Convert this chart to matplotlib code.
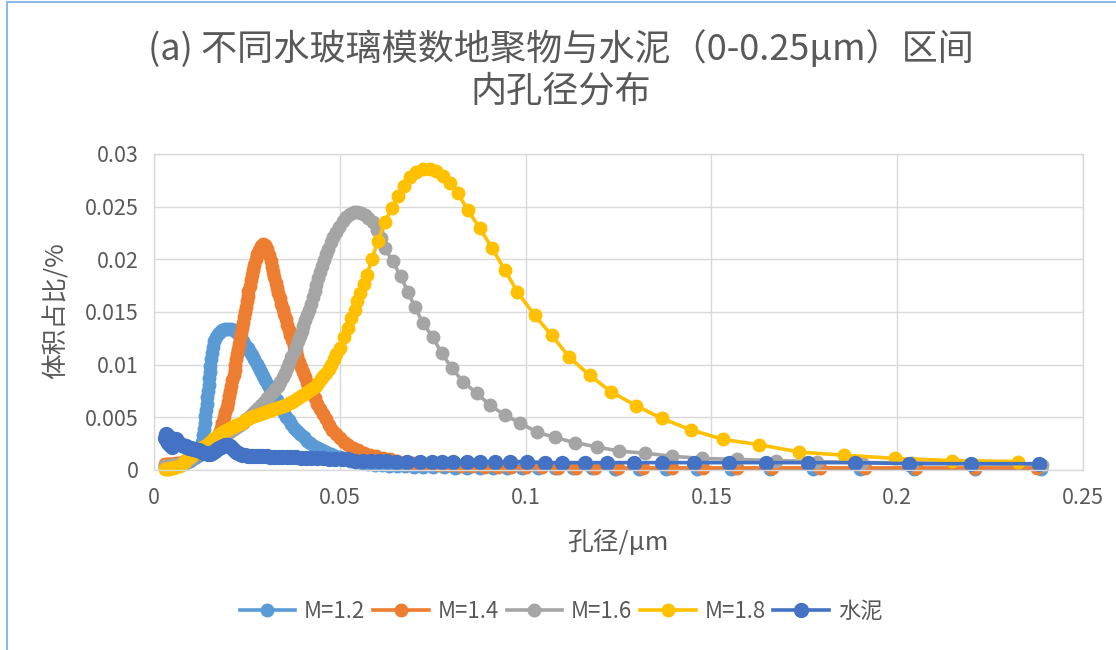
import matplotlib
matplotlib.use('Agg')
import matplotlib.pyplot as plt
from matplotlib.lines import Line2D
from matplotlib.ticker import FuncFormatter, MultipleLocator

plt.rcParams['font.family'] = ['Noto Sans CJK SC', 'DejaVu Sans']

# pore diameter (um), volume fraction (%)
m12_pts = [
    (0.0030, 0.0003), (0.0035, 0.0003), (0.0040, 0.0003), (0.0045, 0.0003), (0.0050, 0.0004),
    (0.0055, 0.0004), (0.0060, 0.0004), (0.0066, 0.0005), (0.0072, 0.0005), (0.0078, 0.0006),
    (0.0084, 0.0007), (0.0090, 0.0008), (0.0096, 0.0009), (0.0102, 0.0010), (0.0107, 0.0011),
    (0.0112, 0.0012), (0.0116, 0.0013), (0.0120, 0.0014), (0.0124, 0.0017), (0.0127, 0.0021),
    (0.0130, 0.0027), (0.0132, 0.0033), (0.0134, 0.0039), (0.0136, 0.0045), (0.0138, 0.0051),
    (0.0140, 0.0057), (0.0142, 0.0063), (0.0143, 0.0069), (0.0145, 0.0075), (0.0147, 0.0081),
    (0.0148, 0.0087), (0.0150, 0.0093), (0.0152, 0.0099), (0.0154, 0.0105), (0.0156, 0.0111),
    (0.0159, 0.0117), (0.0162, 0.0122), (0.0166, 0.0126), (0.0171, 0.0129), (0.0177, 0.0131),
    (0.0184, 0.0133), (0.0191, 0.0134), (0.0199, 0.0134), (0.0207, 0.0134), (0.0214, 0.0133),
    (0.0221, 0.0131), (0.0228, 0.0128), (0.0234, 0.0125), (0.0240, 0.0122), (0.0246, 0.0119),
    (0.0252, 0.0116), (0.0258, 0.0112), (0.0264, 0.0109), (0.0270, 0.0105), (0.0276, 0.0101),
    (0.0282, 0.0097), (0.0288, 0.0093), (0.0294, 0.0089), (0.0300, 0.0085), (0.0306, 0.0081),
    (0.0312, 0.0077), (0.0318, 0.0073), (0.0324, 0.0070), (0.0330, 0.0066), (0.0336, 0.0062),
    (0.0342, 0.0058), (0.0349, 0.0054), (0.0356, 0.0050), (0.0363, 0.0047), (0.0370, 0.0044),
    (0.0378, 0.0040), (0.0386, 0.0037), (0.0394, 0.0034), (0.0403, 0.0031), (0.0412, 0.0028),
    (0.0421, 0.0026), (0.0431, 0.0023), (0.0441, 0.0021), (0.0452, 0.0019), (0.0463, 0.0017),
    (0.0475, 0.0015), (0.0487, 0.0013), (0.0500, 0.0012), (0.0514, 0.0010), (0.0528, 0.0009),
    (0.0543, 0.0008), (0.0559, 0.0007), (0.0576, 0.0006), (0.0594, 0.0005), (0.0613, 0.0005),
    (0.0633, 0.0004), (0.0654, 0.0004), (0.0676, 0.0004), (0.0700, 0.0003), (0.0725, 0.0003),
    (0.0752, 0.0003), (0.0780, 0.0003), (0.0810, 0.0002), (0.0842, 0.0002), (0.0876, 0.0002),
    (0.0912, 0.0002), (0.0950, 0.0002), (0.0990, 0.0002), (0.1033, 0.0002), (0.1079, 0.0002),
    (0.1128, 0.0002), (0.1180, 0.0002), (0.1240, 0.0001), (0.1305, 0.0001), (0.1378, 0.0001),
    (0.1460, 0.0001), (0.1553, 0.0001), (0.1658, 0.0001), (0.1773, 0.0001), (0.1900, 0.0001),
    (0.2045, 0.0001), (0.2210, 0.0001), (0.2388, 0.0001),
]

m14_pts = [
    (0.0030, 0.0006), (0.0035, 0.0006), (0.0040, 0.0006), (0.0045, 0.0006), (0.0050, 0.0006),
    (0.0055, 0.0006), (0.0060, 0.0007), (0.0066, 0.0007), (0.0072, 0.0007), (0.0078, 0.0008),
    (0.0084, 0.0009), (0.0090, 0.0010), (0.0096, 0.0011), (0.0102, 0.0012), (0.0108, 0.0013),
    (0.0114, 0.0015), (0.0120, 0.0016), (0.0126, 0.0018), (0.0132, 0.0020), (0.0138, 0.0021),
    (0.0144, 0.0022), (0.0150, 0.0023), (0.0156, 0.0024), (0.0161, 0.0026), (0.0166, 0.0028),
    (0.0171, 0.0031), (0.0176, 0.0035), (0.0180, 0.0040), (0.0184, 0.0045), (0.0188, 0.0050),
    (0.0192, 0.0055), (0.0196, 0.0060), (0.0199, 0.0065), (0.0202, 0.0070), (0.0205, 0.0075),
    (0.0208, 0.0080), (0.0211, 0.0085), (0.0214, 0.0090), (0.0217, 0.0095), (0.0219, 0.0100),
    (0.0222, 0.0105), (0.0224, 0.0110), (0.0227, 0.0115), (0.0229, 0.0120), (0.0232, 0.0125),
    (0.0234, 0.0130), (0.0237, 0.0135), (0.0239, 0.0140), (0.0242, 0.0145), (0.0244, 0.0150),
    (0.0247, 0.0155), (0.0249, 0.0160), (0.0252, 0.0165), (0.0254, 0.0170), (0.0257, 0.0175),
    (0.0260, 0.0180), (0.0263, 0.0185), (0.0266, 0.0190), (0.0270, 0.0195), (0.0274, 0.0200),
    (0.0278, 0.0205), (0.0283, 0.0209), (0.0288, 0.0213), (0.0294, 0.0215), (0.0300, 0.0214),
    (0.0305, 0.0210), (0.0310, 0.0204), (0.0314, 0.0198), (0.0318, 0.0193), (0.0321, 0.0188),
    (0.0324, 0.0183), (0.0328, 0.0178), (0.0331, 0.0173), (0.0335, 0.0168), (0.0338, 0.0163),
    (0.0342, 0.0158), (0.0346, 0.0153), (0.0350, 0.0148), (0.0354, 0.0143), (0.0358, 0.0138),
    (0.0362, 0.0133), (0.0367, 0.0128), (0.0371, 0.0123), (0.0376, 0.0118), (0.0381, 0.0113),
    (0.0386, 0.0108), (0.0391, 0.0103), (0.0396, 0.0098), (0.0401, 0.0093), (0.0407, 0.0088),
    (0.0413, 0.0083), (0.0419, 0.0078), (0.0425, 0.0073), (0.0432, 0.0068), (0.0439, 0.0063),
    (0.0446, 0.0058), (0.0454, 0.0053), (0.0462, 0.0048), (0.0471, 0.0043), (0.0480, 0.0038),
    (0.0490, 0.0034), (0.0500, 0.0030), (0.0511, 0.0027), (0.0523, 0.0024), (0.0536, 0.0021),
    (0.0550, 0.0019), (0.0565, 0.0016), (0.0581, 0.0014), (0.0598, 0.0013), (0.0616, 0.0011),
    (0.0635, 0.0010), (0.0655, 0.0009), (0.0676, 0.0008), (0.0698, 0.0007), (0.0721, 0.0006),
    (0.0745, 0.0006), (0.0770, 0.0005), (0.0797, 0.0005), (0.0826, 0.0004), (0.0857, 0.0004),
    (0.0890, 0.0003), (0.0925, 0.0003), (0.0962, 0.0003), (0.1001, 0.0003), (0.1043, 0.0003),
    (0.1088, 0.0002), (0.1136, 0.0002), (0.1187, 0.0002), (0.1248, 0.0002), (0.1316, 0.0002),
    (0.1393, 0.0002), (0.1478, 0.0002), (0.1570, 0.0002), (0.1662, 0.0002), (0.1793, 0.0002),
    (0.1914, 0.0002), (0.2051, 0.0002), (0.2210, 0.0002), (0.2376, 0.0002),
]

m16_pts = [
    (0.0030, 0.0004), (0.0035, 0.0004), (0.0040, 0.0004), (0.0045, 0.0004), (0.0050, 0.0005),
    (0.0055, 0.0005), (0.0060, 0.0005), (0.0066, 0.0006), (0.0072, 0.0006), (0.0078, 0.0007),
    (0.0084, 0.0008), (0.0090, 0.0009), (0.0096, 0.0010), (0.0102, 0.0012), (0.0108, 0.0014),
    (0.0114, 0.0016), (0.0120, 0.0018), (0.0126, 0.0020), (0.0132, 0.0021), (0.0138, 0.0022),
    (0.0144, 0.0023), (0.0150, 0.0025), (0.0157, 0.0026), (0.0164, 0.0028), (0.0171, 0.0029),
    (0.0178, 0.0031), (0.0185, 0.0032), (0.0192, 0.0034), (0.0200, 0.0035), (0.0208, 0.0037),
    (0.0216, 0.0039), (0.0224, 0.0041), (0.0232, 0.0043), (0.0240, 0.0045), (0.0248, 0.0048),
    (0.0256, 0.0050), (0.0264, 0.0053), (0.0272, 0.0056), (0.0280, 0.0059), (0.0288, 0.0062),
    (0.0296, 0.0065), (0.0304, 0.0068), (0.0312, 0.0071), (0.0319, 0.0074), (0.0326, 0.0077),
    (0.0333, 0.0080), (0.0340, 0.0084), (0.0346, 0.0088), (0.0352, 0.0092), (0.0358, 0.0097),
    (0.0364, 0.0102), (0.0370, 0.0107), (0.0376, 0.0112), (0.0382, 0.0117), (0.0387, 0.0122),
    (0.0392, 0.0127), (0.0397, 0.0132), (0.0402, 0.0137), (0.0407, 0.0142), (0.0412, 0.0147),
    (0.0417, 0.0152), (0.0422, 0.0158), (0.0427, 0.0164), (0.0432, 0.0170), (0.0437, 0.0176),
    (0.0442, 0.0182), (0.0447, 0.0188), (0.0452, 0.0194), (0.0457, 0.0199), (0.0463, 0.0205),
    (0.0469, 0.0210), (0.0476, 0.0216), (0.0483, 0.0221), (0.0491, 0.0226), (0.0499, 0.0231),
    (0.0508, 0.0236), (0.0517, 0.0240), (0.0527, 0.0243), (0.0537, 0.0245), (0.0547, 0.0245),
    (0.0557, 0.0244), (0.0567, 0.0242), (0.0577, 0.0239), (0.0588, 0.0235), (0.0599, 0.0228),
    (0.0610, 0.0220), (0.0621, 0.0211), (0.0642, 0.0198), (0.0664, 0.0184), (0.0683, 0.0169),
    (0.0702, 0.0155), (0.0723, 0.0140), (0.0750, 0.0126), (0.0774, 0.0111), (0.0801, 0.0097),
    (0.0831, 0.0084), (0.0868, 0.0073), (0.0903, 0.0062), (0.0944, 0.0052), (0.0984, 0.0045),
    (0.1030, 0.0036), (0.1078, 0.0031), (0.1132, 0.0026), (0.1191, 0.0022), (0.1250, 0.0018),
    (0.1320, 0.0016), (0.1395, 0.0013), (0.1476, 0.0011), (0.1570, 0.0010), (0.1675, 0.0009),
    (0.1785, 0.0008), (0.1906, 0.0007), (0.2040, 0.0007), (0.2202, 0.0006), (0.2390, 0.0005),
]

m18_pts = [
    (0.0030, 0.0001), (0.0035, 0.0001), (0.0040, 0.0001), (0.0045, 0.0002), (0.0050, 0.0002),
    (0.0055, 0.0003), (0.0060, 0.0003), (0.0066, 0.0004), (0.0072, 0.0005), (0.0078, 0.0007),
    (0.0084, 0.0008), (0.0090, 0.0010), (0.0096, 0.0012), (0.0102, 0.0014), (0.0108, 0.0016),
    (0.0114, 0.0018), (0.0120, 0.0019), (0.0126, 0.0021), (0.0132, 0.0022), (0.0138, 0.0023),
    (0.0145, 0.0025), (0.0152, 0.0027), (0.0159, 0.0029), (0.0166, 0.0031), (0.0173, 0.0033),
    (0.0180, 0.0035), (0.0188, 0.0037), (0.0196, 0.0038), (0.0204, 0.0040), (0.0212, 0.0041),
    (0.0220, 0.0043), (0.0228, 0.0044), (0.0236, 0.0045), (0.0244, 0.0047), (0.0252, 0.0048),
    (0.0260, 0.0050), (0.0268, 0.0051), (0.0276, 0.0052), (0.0284, 0.0053), (0.0292, 0.0054),
    (0.0300, 0.0055), (0.0308, 0.0056), (0.0316, 0.0057), (0.0324, 0.0058), (0.0332, 0.0059),
    (0.0340, 0.0060), (0.0348, 0.0061), (0.0356, 0.0062), (0.0364, 0.0064), (0.0372, 0.0065),
    (0.0380, 0.0066), (0.0388, 0.0068), (0.0396, 0.0070), (0.0404, 0.0072), (0.0412, 0.0074),
    (0.0420, 0.0076), (0.0428, 0.0078), (0.0435, 0.0080), (0.0442, 0.0083), (0.0449, 0.0086),
    (0.0456, 0.0089), (0.0463, 0.0092), (0.0470, 0.0096), (0.0477, 0.0100), (0.0484, 0.0105),
    (0.0491, 0.0110), (0.0500, 0.0116), (0.0511, 0.0126), (0.0522, 0.0135), (0.0531, 0.0144),
    (0.0540, 0.0152), (0.0547, 0.0160), (0.0554, 0.0168), (0.0564, 0.0177), (0.0573, 0.0185),
    (0.0586, 0.0200), (0.0602, 0.0217), (0.0621, 0.0235), (0.0640, 0.0249), (0.0656, 0.0260),
    (0.0672, 0.0270), (0.0689, 0.0278), (0.0706, 0.0283), (0.0724, 0.0286), (0.0742, 0.0286),
    (0.0760, 0.0284), (0.0778, 0.0279), (0.0797, 0.0272), (0.0817, 0.0263), (0.0844, 0.0247),
    (0.0876, 0.0230), (0.0909, 0.0211), (0.0944, 0.0190), (0.0978, 0.0169), (0.1024, 0.0147),
    (0.1070, 0.0128), (0.1118, 0.0107), (0.1172, 0.0090), (0.1231, 0.0074), (0.1298, 0.0061),
    (0.1366, 0.0049), (0.1446, 0.0038), (0.1532, 0.0029), (0.1629, 0.0024), (0.1737, 0.0017),
    (0.1858, 0.0014), (0.1995, 0.0011), (0.2148, 0.0009), (0.2325, 0.0008),
]

cement_pts = [
    (0.0030, 0.0030), (0.0032, 0.0034), (0.0034, 0.0028), (0.0036, 0.0033), (0.0038, 0.0026),
    (0.0040, 0.0031), (0.0043, 0.0024), (0.0046, 0.0030), (0.0049, 0.0022), (0.0052, 0.0028),
    (0.0055, 0.0027), (0.0058, 0.0029), (0.0062, 0.0028), (0.0066, 0.0026), (0.0070, 0.0025),
    (0.0075, 0.0024), (0.0080, 0.0023), (0.0085, 0.0023), (0.0090, 0.0022), (0.0095, 0.0021),
    (0.0100, 0.0021), (0.0105, 0.0020), (0.0110, 0.0020), (0.0115, 0.0019), (0.0120, 0.0019),
    (0.0125, 0.0018), (0.0130, 0.0017), (0.0135, 0.0016), (0.0140, 0.0016), (0.0145, 0.0015),
    (0.0150, 0.0015), (0.0155, 0.0016), (0.0160, 0.0017), (0.0165, 0.0018), (0.0170, 0.0020),
    (0.0175, 0.0021), (0.0180, 0.0022), (0.0185, 0.0023), (0.0190, 0.0024), (0.0195, 0.0024),
    (0.0200, 0.0024), (0.0205, 0.0023), (0.0210, 0.0021), (0.0215, 0.0019), (0.0220, 0.0017),
    (0.0226, 0.0016), (0.0232, 0.0015), (0.0238, 0.0014), (0.0245, 0.0014), (0.0252, 0.0013),
    (0.0260, 0.0013), (0.0268, 0.0013), (0.0276, 0.0013), (0.0285, 0.0013), (0.0294, 0.0013),
    (0.0303, 0.0013), (0.0313, 0.0012), (0.0323, 0.0012), (0.0334, 0.0012), (0.0345, 0.0012),
    (0.0357, 0.0012), (0.0369, 0.0012), (0.0382, 0.0012), (0.0395, 0.0011), (0.0409, 0.0011),
    (0.0423, 0.0011), (0.0438, 0.0011), (0.0454, 0.0011), (0.0470, 0.0010), (0.0487, 0.0010),
    (0.0505, 0.0010), (0.0523, 0.0010), (0.0542, 0.0009), (0.0562, 0.0009), (0.0583, 0.0009),
    (0.0605, 0.0009), (0.0627, 0.0009), (0.0651, 0.0008), (0.0680, 0.0008), (0.0715, 0.0008),
    (0.0747, 0.0008), (0.0774, 0.0008), (0.0804, 0.0008), (0.0841, 0.0008), (0.0876, 0.0008),
    (0.0917, 0.0008), (0.0957, 0.0008), (0.1003, 0.0008), (0.1051, 0.0007), (0.1099, 0.0007),
    (0.1159, 0.0007), (0.1220, 0.0007), (0.1293, 0.0007), (0.1368, 0.0007), (0.1454, 0.0007),
    (0.1548, 0.0007), (0.1648, 0.0007), (0.1761, 0.0007), (0.1887, 0.0007), (0.2032, 0.0006),
    (0.2199, 0.0006), (0.2382, 0.0006),
]

series = [
    ('M=1.2', m12_pts, '#5B9BD5', 9),
    ('M=1.4', m14_pts, '#ED7D31', 9),
    ('M=1.6', m16_pts, '#A5A5A5', 9),
    ('M=1.8', m18_pts, '#FFC000', 9),
    ('水泥', cement_pts, '#4472C4', 10),
]

textcol = '#595959'
gridcol = '#D9D9D9'

fig = plt.figure(figsize=(11.16, 6.5), dpi=100)
ax = fig.add_axes([154 / 1116, 1 - 470 / 650, (1083 - 154) / 1116, (470 - 154) / 650])

handles = []
for name, pts, col, ms in series:
    xs = [p[0] for p in pts]
    ys = [p[1] for p in pts]
    ln, = ax.plot(xs, ys, color=col, lw=2.6, marker='o', ms=ms,
                  mfc=col, mec=col, clip_on=False, label=name)
    handles.append(ln)

ax.set_xlim(0, 0.25)
ax.set_ylim(0, 0.03)
ax.xaxis.set_major_locator(MultipleLocator(0.05))
ax.yaxis.set_major_locator(MultipleLocator(0.005))
fmt = FuncFormatter(lambda v, pos: f'{v:g}')
ax.xaxis.set_major_formatter(fmt)
ax.yaxis.set_major_formatter(fmt)
ax.grid(True, color=gridcol, lw=1.0)
ax.set_axisbelow(True)
for s in ax.spines.values():
    s.set_color(gridcol)
    s.set_linewidth(1.0)
ax.tick_params(length=0, labelsize=15.5, labelcolor=textcol)
ax.tick_params(axis='x', pad=12)
ax.tick_params(axis='y', pad=11)

fig.text(618 / 1116, 1 - 543 / 650, '孔径/μm', ha='center', va='center',
         fontsize=18.5, color=textcol)
fig.text(57 / 1116, 1 - 311 / 650, '体积占比/%', ha='center', va='center',
         rotation=90, fontsize=18.5, color=textcol)
fig.text(561 / 1116, 1 - 70 / 650, '(a) 不同水玻璃模数地聚物与水泥（0-0.25μm）区间\n内孔径分布',
         ha='center', va='center', fontsize=26, color=textcol, linespacing=1.2)

fig.legend(handles=handles, loc='center', bbox_to_anchor=(561 / 1116, 1 - 611 / 650),
           ncol=5, frameon=False, fontsize=16, handlelength=2.5, handletextpad=0.4,
           columnspacing=0.35, labelcolor=textcol, numpoints=1)

# thin blue frame on the left and top edges
fig.add_artist(Line2D([7 / 1116, 7 / 1116], [0, 1 - 1.5 / 650], transform=fig.transFigure,
                      color='#8FB8E3', lw=1.5))
fig.add_artist(Line2D([7 / 1116, 1], [1 - 1.5 / 650, 1 - 1.5 / 650], transform=fig.transFigure,
                      color='#8FB8E3', lw=1.5))

fig.savefig('out.png', dpi=100, facecolor='white')
